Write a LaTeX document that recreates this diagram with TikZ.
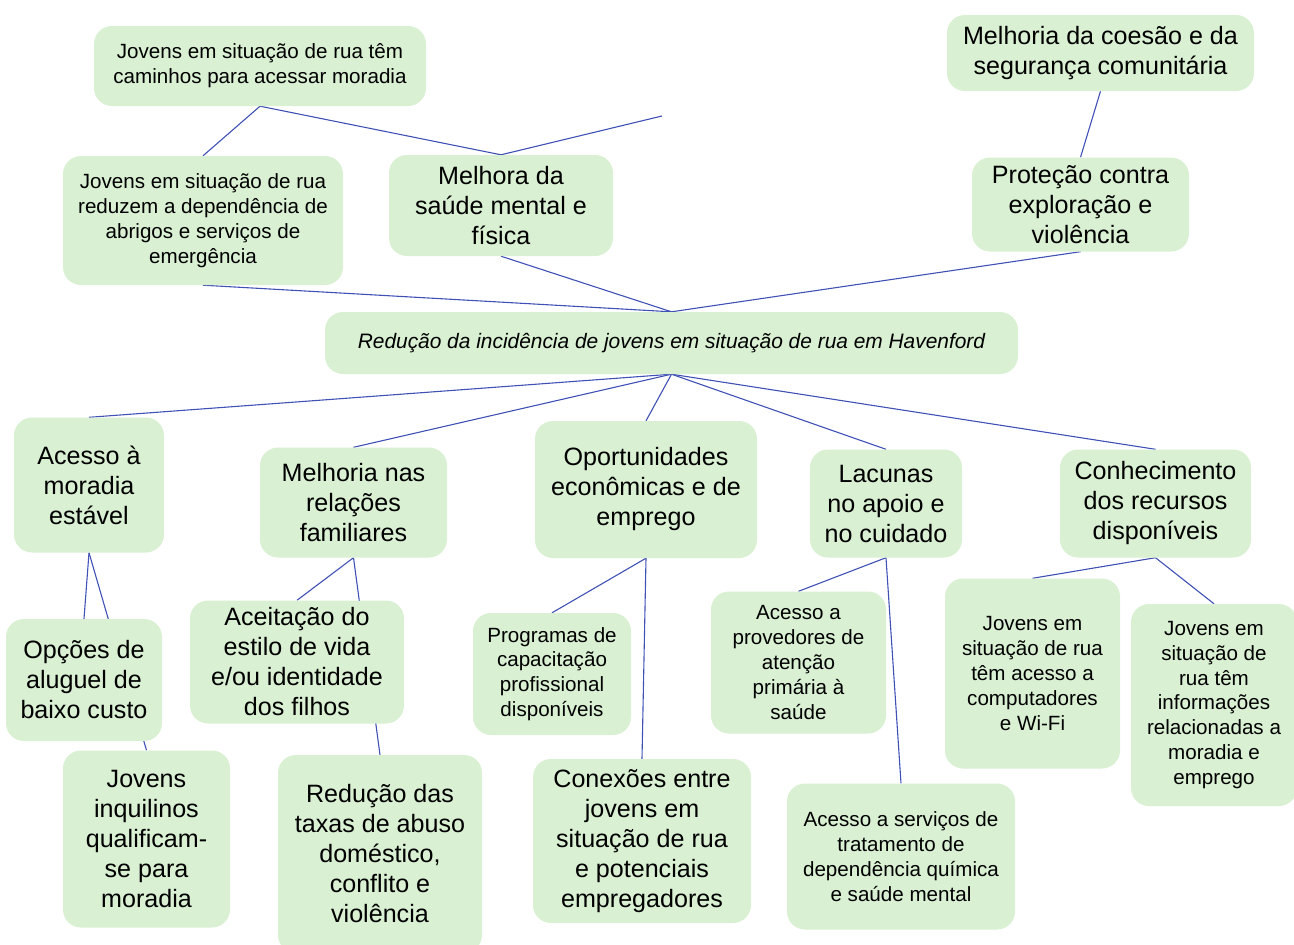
\documentclass[tikz,border=0pt]{standalone}
\usepackage{fontspec}
\setmainfont{Liberation Sans}
\usetikzlibrary{backgrounds}
\definecolor{boxfill}{RGB}{217,240,211}
\definecolor{linkcol}{RGB}{63,81,181}
\tikzset{
  box/.style={fill=boxfill, rounded corners=18pt, align=center, inner sep=0pt, text=black},
  bigtxt/.style={box, font=\fontsize{25.1}{30}\selectfont},
  smalltxt/.style={box, font=\fontsize{20.6}{24.8}\selectfont},
  link/.style={draw=linkcol, line width=1.1pt}
}
\begin{document}
\begin{tikzpicture}[x=1pt,y=-1pt]
\useasboundingbox (0,0) rectangle (1294,945);
% top area
\node[smalltxt, minimum width=332pt, minimum height=80pt] (A) at (260,66) {Jovens em situação de rua têm\\caminhos para acessar moradia};
\node[smalltxt, minimum width=280pt, minimum height=129pt] (B) at (203,220.5) {Jovens em situação de rua\\reduzem a dependência de\\abrigos e serviços de\\emergência};
\node[bigtxt, minimum width=224pt, minimum height=101pt] (C) at (501,205.5) {Melhora da\\saúde mental e\\física};
\node[bigtxt, minimum width=307pt, minimum height=76pt] (D) at (1100.5,53) {Melhoria da coesão e da\\segurança comunitária};
\node[bigtxt, minimum width=217pt, minimum height=94pt] (E) at (1080.5,204.5) {Proteção contra\\exploração e\\violência};
\coordinate (Cfree) at (662,116);
% central
\node[smalltxt, minimum width=693pt, minimum height=62pt, font=\fontsize{20.9}{24.8}\selectfont\itshape] (F) at (671.5,343) {Redução da incidência de jovens em situação de rua em Havenford};
% second row
\node[bigtxt, minimum width=150pt, minimum height=135pt] (G) at (89,485) {Acesso à\\moradia\\estável};
\node[bigtxt, minimum width=187pt, minimum height=110pt] (H) at (353.5,502.5) {Melhoria nas\\relações\\familiares};
\node[bigtxt, minimum width=222pt, minimum height=137pt] (I) at (646,489.5) {Oportunidades\\econômicas e de\\emprego};
\node[bigtxt, minimum width=152pt, minimum height=108pt] (J) at (886,503.5) {Lacunas\\no apoio e\\no cuidado};
\node[bigtxt, minimum width=191pt, minimum height=108pt] (K) at (1155.5,503.5) {Conhecimento\\dos recursos\\disponíveis};
% third row
\node[bigtxt, minimum width=156pt, minimum height=122pt] (L) at (84,680) {Opções de\\aluguel de\\baixo custo};
\node[bigtxt, minimum width=167pt, minimum height=177pt] (M) at (146.5,839) {Jovens\\inquilinos\\qualificam-\\se para\\moradia};
\node[bigtxt, minimum width=214pt, minimum height=123pt] (N) at (297,662) {Aceitação do\\estilo de vida\\e/ou identidade\\dos filhos};
\node[bigtxt, minimum width=204pt, minimum height=198pt] (O) at (380,854) {Redução das\\taxas de abuso\\doméstico,\\conflito e\\violência};
\node[smalltxt, minimum width=158pt, minimum height=122pt] (P) at (552,674) {Programas de\\capacitação\\profissional\\disponíveis};
\node[bigtxt, minimum width=218pt, minimum height=164pt] (Q) at (642,841) {Conexões entre\\jovens em\\situação de rua\\e potenciais\\empregadores};
\node[smalltxt, minimum width=175pt, minimum height=142pt] (R) at (798.5,662.5) {Acesso a\\provedores de\\atenção\\primária à\\saúde};
\node[smalltxt, minimum width=228pt, minimum height=146pt] (S) at (901,856.5) {Acesso a serviços de\\tratamento de\\dependência química\\e saúde mental};
\node[smalltxt, minimum width=175pt, minimum height=190pt] (T) at (1032.5,673.5) {Jovens em\\situação de rua\\têm acesso a\\computadores\\e Wi-Fi};
\node[smalltxt, minimum width=166pt, minimum height=202pt] (U) at (1214,705) {Jovens em\\situação de\\rua têm\\informações\\relacionadas a\\moradia e\\emprego};
% connectors
\begin{scope}[on background layer]
\draw[link] (A.south) -- (B.north);
\draw[link] (A.south) -- (C.north);
\draw[link] (C.north) -- (Cfree);
\draw[link] (D.south) -- (E.north);
\draw[link] (F.north) -- (B.south);
\draw[link] (F.north) -- (C.south);
\draw[link] (F.north) -- (E.south);
\draw[link] (F.south) -- (G.north);
\draw[link] (F.south) -- (H.north);
\draw[link] (F.south) -- (I.north);
\draw[link] (F.south) -- (J.north);
\draw[link] (F.south) -- (K.north);
\draw[link] (G.south) -- (L.north);
\draw[link] (G.south) -- (M.north);
\draw[link] (H.south) -- (N.north);
\draw[link] (H.south) -- (O.north);
\draw[link] (I.south) -- (P.north);
\draw[link] (I.south) -- (Q.north);
\draw[link] (J.south) -- (R.north);
\draw[link] (J.south) -- (S.north);
\draw[link] (K.south) -- (T.north);
\draw[link] (K.south) -- (U.north);
\end{scope}
\end{tikzpicture}
\end{document}
